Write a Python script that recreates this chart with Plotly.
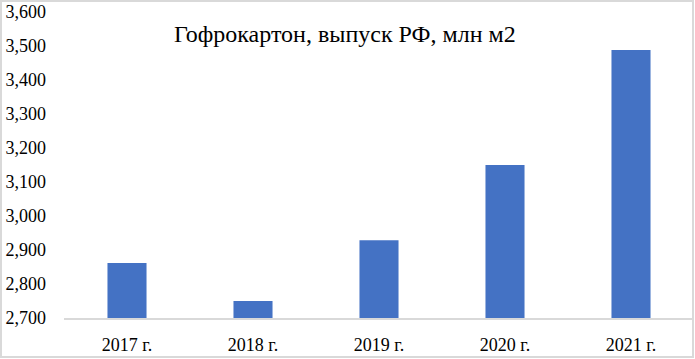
import plotly.graph_objects as go

categories = ["2017 г.", "2018 г.", "2019 г.", "2020 г.", "2021 г."]
values = [2862, 2750, 2929, 3150, 3488]
y_ticks = [2700, 2800, 2900, 3000, 3100, 3200, 3300, 3400, 3500, 3600]
title = "Гофрокартон, выпуск РФ, млн м2"

FONT = "Liberation Serif"

fig = go.Figure()
fig.add_trace(go.Bar(x=categories, y=values, marker=dict(color="#4472C4", line=dict(width=0))))

fig.update_layout(
    width=695, height=359,
    margin=dict(l=64, r=1, t=12, b=41),
    paper_bgcolor="white", plot_bgcolor="white",
    bargap=0.69,
    showlegend=False,
    font=dict(family=FONT, color="#000000", size=17),
)
fig.update_xaxes(
    showgrid=False, showline=True, linecolor="#d9d9d9", linewidth=2,
    ticks="", ticklabelstandoff=9,
    tickfont=dict(family=FONT, size=18, color="#000000"),
)
fig.update_yaxes(
    range=[2700, 3600], tickvals=y_ticks, tickformat=",",
    showgrid=False, showline=False, zeroline=False, ticks="",
    ticklabelstandoff=17,
    tickfont=dict(family=FONT, size=18, color="#000000"),
)
fig.add_annotation(
    text=title, x=0.446, y=0.928, xref="paper", yref="paper",
    showarrow=False, font=dict(size=24, family=FONT, color="#000000"),
    xanchor="center", yanchor="middle",
)
fig.add_shape(
    type="rect", xref="paper", yref="paper",
    x0=-63/630, x1=629/630, y0=-39/306, y1=1 + 11/306,
    line=dict(color="#d9d9d9", width=2), fillcolor="rgba(0,0,0,0)",
)
fig.write_html("out.html")
